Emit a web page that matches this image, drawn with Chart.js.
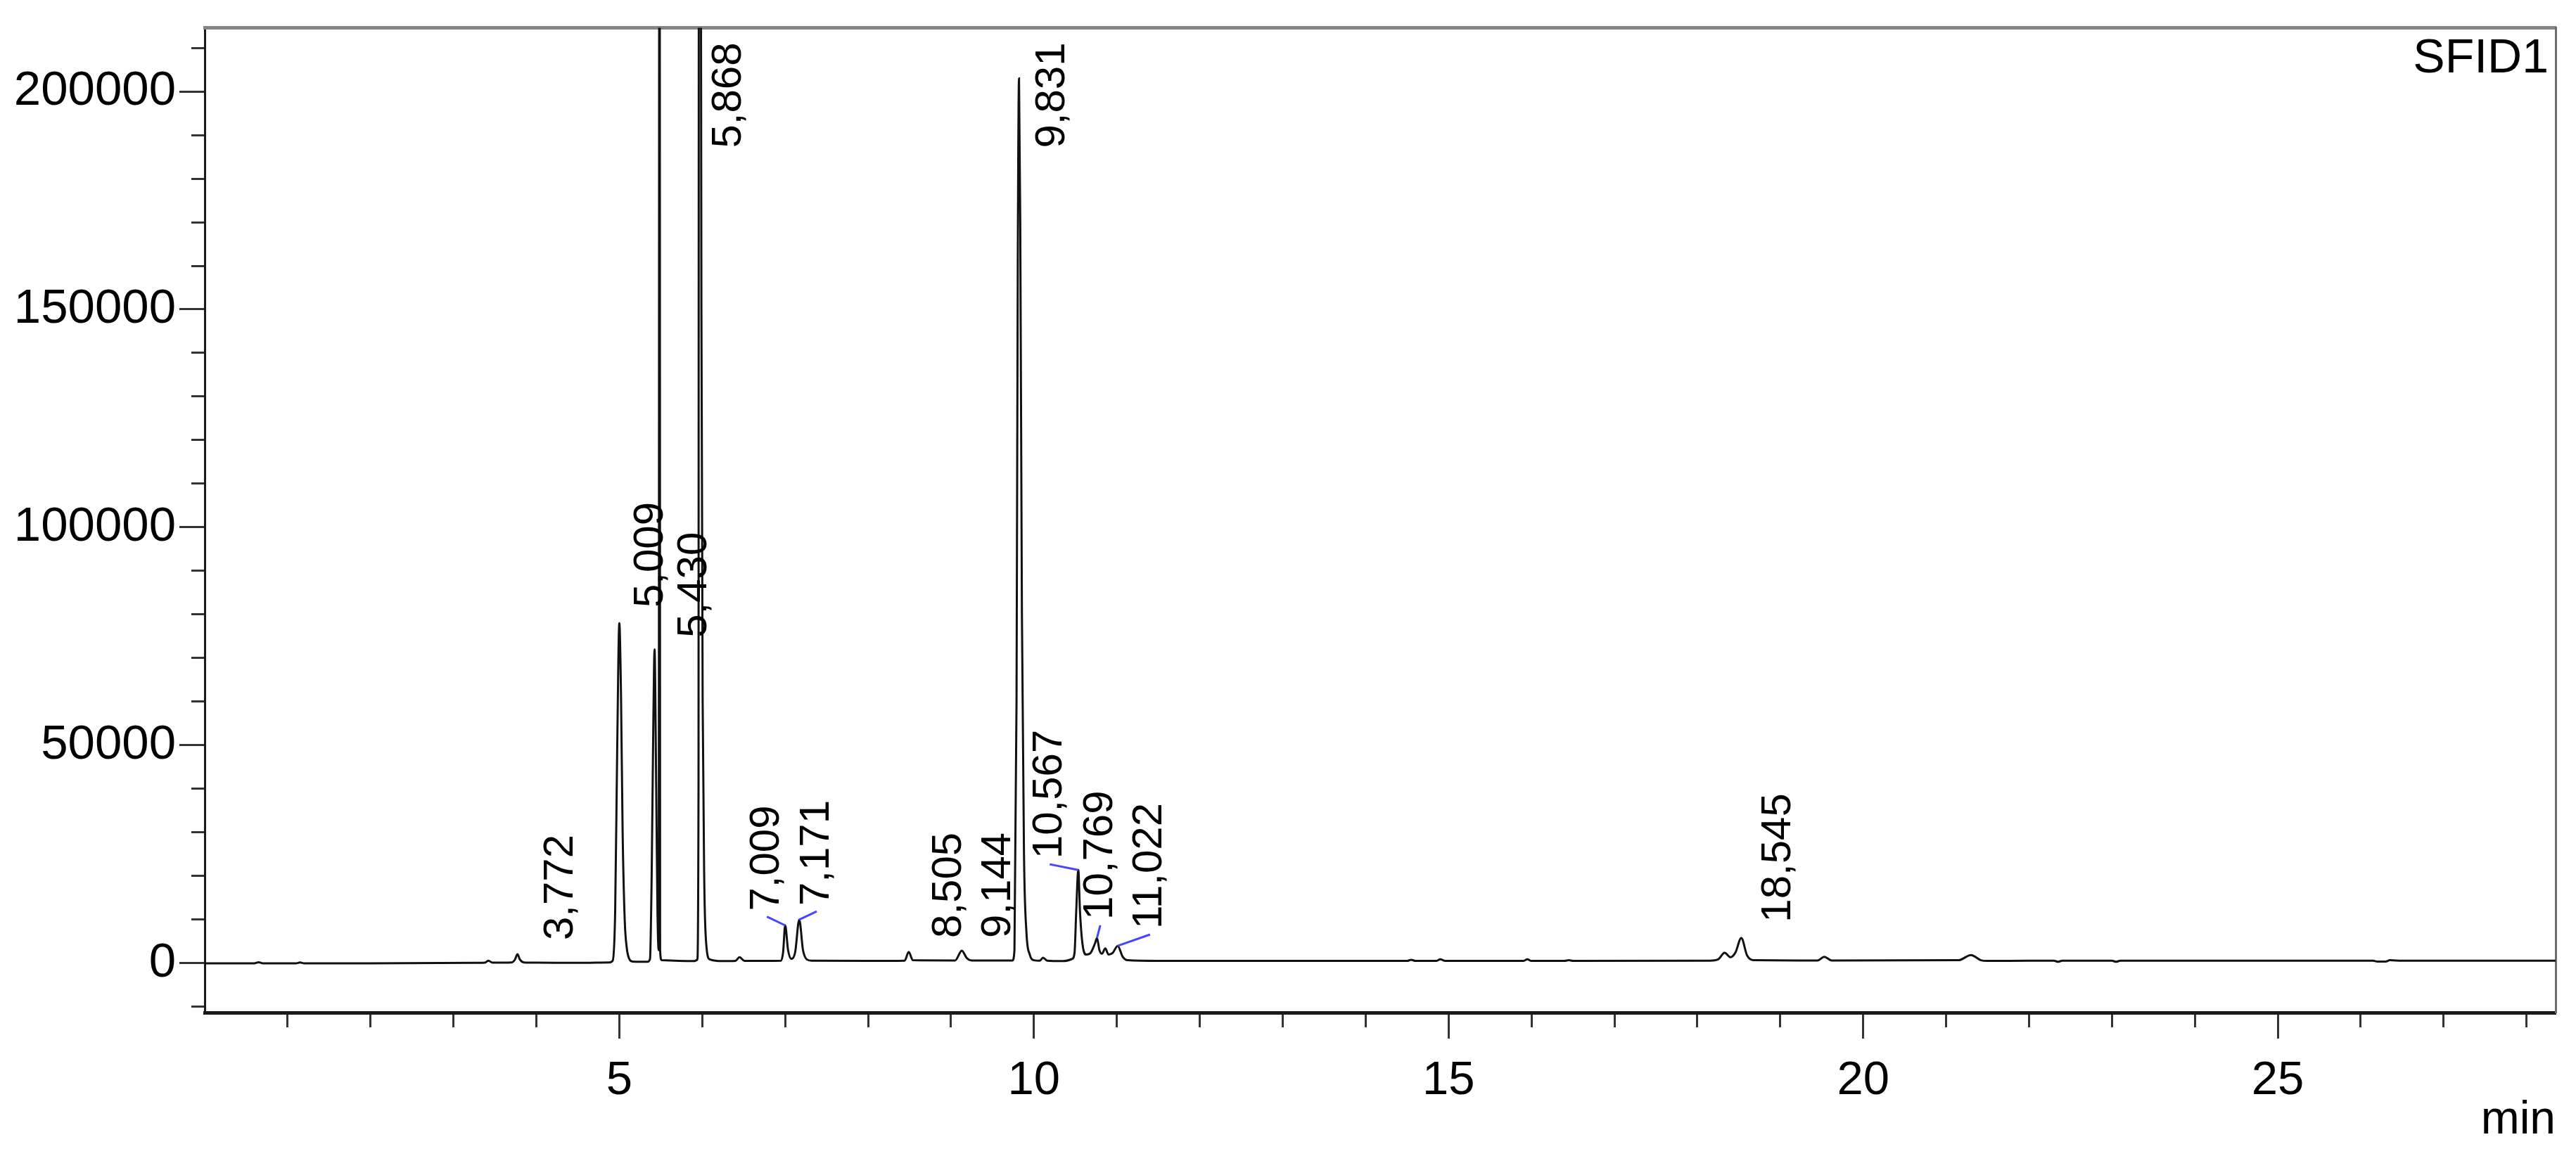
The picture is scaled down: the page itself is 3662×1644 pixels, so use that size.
<!DOCTYPE html>
<html lang="en">
<head>
  <meta charset="UTF-8">
  <title>SFID1</title>
  <script src="https://cdn.jsdelivr.net/npm/chart.js"></script>
  <style>
    html, body {
      margin: 0;
      padding: 0;
      background-color: #fff;
    }
    canvas {
      display: block;
    }
  </style>
</head>
<body>

<canvas id="chrom" width="3662" height="1644"></canvas>

<script>
  // detector trace: time (min) and signal
  const retentionTime = [
    0, 0.6, 0.65, 0.7, 1.1, 1.15, 1.2, 2.0, 3.3, 3.38, 3.42, 3.47, 3.7, 3.74, 3.772, 3.8, 3.85, 4.0, 4.5,
    4.88, 4.92, 4.95, 4.975, 5.0, 5.02, 5.04, 5.065, 5.09, 5.12, 5.16,
    5.34, 5.37, 5.39, 5.41, 5.425, 5.445, 5.46, 5.475, 5.485, 5.492, 5.51,
    5.9, 5.94, 5.955, 5.965, 5.975, 5.99, 6.005, 6.025, 6.05, 6.09,
    6.25, 6.4, 6.45, 6.51, 6.95, 6.975, 7.0, 7.035, 7.075, 7.12, 7.17, 7.215, 7.26, 7.32,
    8.0, 8.44, 8.49, 8.54, 9.05, 9.13, 9.19, 9.25,
    9.74, 9.765, 9.79, 9.805, 9.82, 9.835, 9.855, 9.88, 9.91, 9.95, 10.0,
    10.07, 10.11, 10.16, 10.35, 10.46, 10.49, 10.51, 10.535, 10.555, 10.585, 10.63,
    10.68, 10.735, 10.76, 10.79, 10.82, 10.86, 10.9, 10.95, 11.01, 11.07, 11.13,
    11.5, 12.5, 14.5, 14.55, 14.6, 14.85, 14.9, 14.96, 15.9, 15.95, 16.0, 16.4, 16.45, 16.5,
    18.15, 18.25, 18.33, 18.4, 18.46, 18.53, 18.6, 18.68,
    19.45, 19.53, 19.62, 21.15, 21.3, 21.42, 21.5, 22.0, 22.3, 22.35, 22.4, 23.0, 23.05, 23.1, 23.6,
    26.15, 26.2, 26.3, 26.35, 26.5, 28.35
  ];
  const signal = [
    0, 0, 250, 0, 0, 200, 0, 0, 100, 150, 600, 150, 200, 800, 2100, 900, 200, 150, 100,
    200, 600, 12000, 50000, 78000, 62000, 30000, 10000, 3500, 1000, 400,
    350, 1000, 20000, 55000, 72000, 40000, 12000, 3000, 400000, 3000, 700,
    500, 800, 40000, 600000, 350000, 150000, 60000, 18000, 4000, 900,
    500, 550, 1400, 550, 600, 2500, 8700, 3000, 1000, 2500, 10000, 3000, 900, 600,
    550, 600, 2600, 700, 650, 2900, 1200, 650,
    650, 3000, 60000, 160000, 203000, 170000, 80000, 25000, 7000, 2000, 700,
    600, 1300, 600, 500, 1000, 2500, 12000, 21400, 12000, 4500, 2000,
    2300, 4500, 5800, 3000, 2200, 3400, 2000, 2400, 4000, 1500, 700,
    550, 550, 550, 800, 550, 550, 900, 550, 550, 900, 550, 550, 700, 550,
    600, 900, 2400, 1400, 2500, 5800, 1800, 700,
    650, 1500, 650, 700, 1900, 700, 550, 600, 600, 350, 600, 600, 350, 600, 600,
    600, 400, 400, 700, 600, 600
  ];

  // integrated peaks: printed retention time and apex of the trace
  const peakLabels = ['3,772', '5,009', '5,430', '5,868', '7,009', '7,171', '8,505',
                      '9,144', '9,831', '10,567', '10,769', '11,022', '18,545'];
  const peakApexTime = [3.772, 5.0, 5.425, 5.965, 7.0, 7.17, 8.49, 9.13, 9.82, 10.535, 10.76, 11.01, 18.53];
  const peakApexSignal = [2100, 78000, 72000, 600000, 8700, 10000, 2600, 2900, 203000, 21400, 5800, 4000, 5800];

  // tick labels
  const xTickLabels = ['5', '10', '15', '20', '25'];
  const yTickLabels = ['0', '50000', '100000', '150000', '200000'];

  // minor tick marks: every minute, every 10000 counts
  const xTickValues = [];
  for (let m = 1; m <= 28; m++) xTickValues.push(m);
  const yTickValues = [];
  for (let v = -10000; v <= 210000; v += 10000) yTickValues.push(v);

  // where each peak label sits (bottom of the rotated text), in axis units
  const labelSpots = [
    {x: 4.3, y: 5300}, {x: 5.385, y: 81600}, {x: 5.91, y: 74700}, {x: 6.32, y: 187000},
    {x: 6.78, y: 12000, leader: true}, {x: 7.38, y: 13200, leader: true},
    {x: 8.98, y: 5800}, {x: 9.57, y: 5800}, {x: 10.23, y: 187000},
    {x: 10.19, y: 24000, leader: true}, {x: 10.80, y: 10000, leader: true},
    {x: 11.40, y: 7900, leader: true}, {x: 18.98, y: 9400}
  ];

  const FONT = '"Liberation Sans", Arial, sans-serif';

  const peakLabelPlugin = {
    id: 'peakLabels',
    afterDatasetsDraw(chart) {
      const {ctx, chartArea, scales: {x, y}} = chart;
      ctx.save();
      ctx.font = '60px ' + FONT;
      ctx.fillStyle = '#000';
      peakLabels.forEach((txt, i) => {
        const spot = labelSpots[i];
        const px = x.getPixelForValue(spot.x);
        const py = y.getPixelForValue(spot.y);
        if (spot.leader) {
          ctx.strokeStyle = '#4646ff';
          ctx.lineWidth = 3;
          ctx.beginPath();
          ctx.moveTo(px, py + 8);
          ctx.lineTo(x.getPixelForValue(peakApexTime[i]), y.getPixelForValue(peakApexSignal[i]));
          ctx.stroke();
        }
        ctx.save();
        ctx.translate(px, py);
        ctx.rotate(-Math.PI / 2);
        ctx.textAlign = 'left';
        ctx.textBaseline = 'middle';
        ctx.fillText(txt, 0, 0);
        ctx.restore();
      });

      ctx.font = '68px ' + FONT;
      ctx.textAlign = 'right';
      ctx.textBaseline = 'alphabetic';
      ctx.fillText('SFID1', chartArea.right - 10, chartArea.top + 63);
      ctx.restore();
    }
  };

  const points = retentionTime.map((t, i) => ({x: t, y: signal[i]}));

  const ctx = document.getElementById('chrom').getContext('2d');
  const chrom = new Chart(ctx, {
    type: 'line',
    data: {
      datasets: [{
        data: points,
        borderColor: '#111',
        borderWidth: 3,
        pointRadius: 0,
        fill: false,
        cubicInterpolationMode: 'monotone'
      }]
    },
    plugins: [peakLabelPlugin],
    options: {
      responsive: false,
      animation: false,
      events: [],
      layout: {
        padding: {top: 37, right: 29, bottom: 0, left: 0}
      },
      plugins: {
        legend: {display: false},
        tooltip: {enabled: false}
      },
      scales: {
        x: {
          type: 'linear',
          min: 0,
          max: 28.35,
          afterFit: s => { s.height = 204; },
          afterBuildTicks: s => { s.ticks = xTickValues.map(v => ({value: v})); },
          border: {color: '#1a1a1a', width: 5},
          grid: {
            drawOnChartArea: false,
            tickLength: 37,
            tickWidth: 3,
            tickColor: '#333',
            tickBorderDash: c => (c.tick && c.tick.value % 5 === 0) ? [] : [18, 40]
          },
          ticks: {
            autoSkip: false,
            maxRotation: 0,
            padding: 20,
            color: '#000',
            font: {family: FONT, size: 67},
            callback: v => xTickLabels.includes(String(v)) ? String(v) : ''
          },
          title: {
            display: true,
            text: 'min',
            align: 'end',
            color: '#000',
            font: {family: FONT, size: 66},
            padding: {top: 0, bottom: 11}
          }
        },
        y: {
          min: -11300,
          max: 214600,
          afterFit: s => { s.width = 291; },
          afterBuildTicks: s => { s.ticks = yTickValues.map(v => ({value: v})); },
          border: {color: '#1a1a1a', width: 3},
          grid: {
            drawOnChartArea: false,
            tickLength: 36,
            tickWidth: 3,
            tickColor: '#333',
            tickBorderDash: c => (c.tick && c.tick.value % 50000 === 0) ? [] : [18, 17],
            tickBorderDashOffset: c => (c.tick && c.tick.value % 50000 === 0) ? 0 : 18
          },
          ticks: {
            autoSkip: false,
            padding: 5,
            color: '#000',
            font: {family: FONT, size: 69, lineHeight: 1},
            callback: v => yTickLabels.includes(String(v)) ? String(v) : ''
          }
        },
        x2: {
          type: 'linear',
          position: 'top',
          afterFit: s => { s.height = 0; },
          border: {color: '#858585', width: 5},
          grid: {drawOnChartArea: false, drawTicks: false},
          ticks: {display: false}
        },
        y2: {
          position: 'right',
          afterFit: s => { s.width = 0; },
          border: {color: '#6e6e6e', width: 3},
          grid: {drawOnChartArea: false, drawTicks: false},
          ticks: {display: false}
        }
      }
    }
  });
</script>
</body>
</html>
